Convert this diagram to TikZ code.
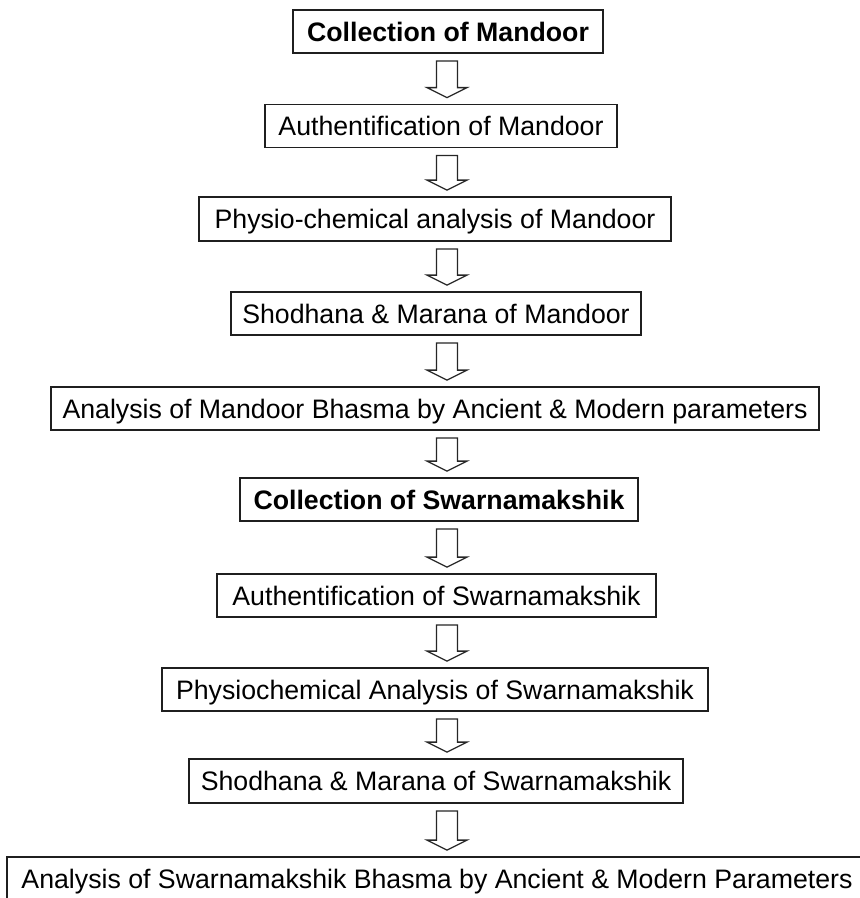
\documentclass[tikz,border=0pt]{standalone}
\usepackage{fontspec}
\setmainfont{Liberation Sans}
\usetikzlibrary{calc}
\tikzset{
  flowbox/.style={draw=black!88, line width=1.8pt, fill=white, inner sep=0pt,
    font=\fontsize{26.7}{32}\selectfont, text height=19.2pt, text depth=0pt, align=center},
  boldbox/.style={flowbox, font=\fontsize{26.7}{32}\selectfont\bfseries},
  barrow/.style={draw=black!85, line width=1.3pt, fill=white, line join=miter}
}
\newcommand\blockarr[2]{%
  \draw[barrow] ($(#1.south -| ax)+(-10.5,7)$) -- ++(21,0)
    -- ($(#2.north -| ax)+(10.5,-16)$) -- ++(9.5,0)
    -- ($(#2.north -| ax)+(0,-6)$) -- ++(-20,-10) -- ++(9.5,0) -- cycle;}
\begin{document}
\begin{tikzpicture}[x=1pt,y=-1pt]
\useasboundingbox (0,0) rectangle (860,898);
\begin{scope}
\clip (0,0) rectangle (860,898);
\coordinate (ax) at (447,0);
\node[boldbox, minimum width=310pt, minimum height=43pt] (b1) at (448,31.5) {Collection of Mandoor};
\node[flowbox, minimum width=352pt, minimum height=43pt] (b2) at (441,126) {Authentification of Mandoor};
\node[flowbox, minimum width=472pt, minimum height=44pt] (b3) at (435,219) {Physio-chemical analysis of Mandoor};
\node[flowbox, minimum width=410pt, minimum height=43pt] (b4) at (436,313.5) {Shodhana \& Marana of Mandoor};
\node[flowbox, minimum width=768pt, minimum height=43pt] (b5) at (435,408.5) {Analysis of Mandoor Bhasma by Ancient \& Modern parameters};
\node[boldbox, minimum width=398pt, minimum height=43pt] (b6) at (439,499.5) {Collection of Swarnamakshik};
\node[flowbox, minimum width=439pt, minimum height=43pt] (b7) at (436.5,595.5) {Authentification of Swarnamakshik};
\node[flowbox, minimum width=546pt, minimum height=43pt] (b8) at (435,689.5) {Physiochemical Analysis of Swarnamakshik};
\node[flowbox, minimum width=494pt, minimum height=44pt] (b9) at (436,781) {Shodhana \& Marana of Swarnamakshik};
\node[flowbox, minimum width=860pt, minimum height=43pt] (b10) at (437,878.5) {Analysis of Swarnamakshik Bhasma by Ancient \& Modern Parameters};
\blockarr{b1}{b2}
\blockarr{b2}{b3}
\blockarr{b3}{b4}
\blockarr{b4}{b5}
\blockarr{b5}{b6}
\blockarr{b6}{b7}
\blockarr{b7}{b8}
\blockarr{b8}{b9}
\blockarr{b9}{b10}
\end{scope}
\end{tikzpicture}
\end{document}
